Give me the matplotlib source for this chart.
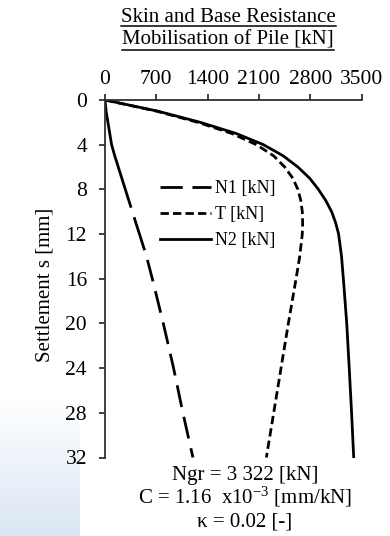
import numpy as np
import matplotlib
matplotlib.use('Agg')
import matplotlib.pyplot as plt
from matplotlib.lines import Line2D

# settlement of pile head [mm]
settlement = [0, 1, 2, 3, 4, 5, 6, 7, 8, 9, 10, 11, 12, 14, 16, 20, 24, 28, 32]
# base resistance N1 [kN]
n1 = [0, 15, 40, 65, 90, 133, 181, 229, 277, 325, 373, 421, 470, 566, 645, 795, 935, 1062, 1199]
# skin resistance T [kN]
t_skin = [0, 705, 1265, 1730, 2065, 2300, 2450, 2560, 2630, 2670, 2690, 2695, 2690, 2655, 2605, 2500, 2400, 2300, 2200]
# total resistance N2 [kN]
n2 = [0, 720, 1300, 1790, 2160, 2430, 2630, 2790, 2910, 3010, 3090, 3145, 3185, 3225, 3250, 3296, 3330, 3362, 3391]

x_ticks = [0, 700, 1400, 2100, 2800, 3500]
y_ticks = [0, 4, 8, 12, 16, 20, 24, 28, 32]

plt.rcParams['font.family'] = 'Liberation Serif'
plt.rcParams['mathtext.fontset'] = 'custom'
plt.rcParams['mathtext.rm'] = 'Liberation Serif'
plt.rcParams['mathtext.it'] = 'Liberation Serif:italic'


def underline(fig, txt, renderer):
    bb = txt.get_window_extent(renderer)
    inv = fig.transFigure.inverted()
    (x0, y0), (x1, _) = inv.transform([(bb.x0, bb.y0 + 0.5), (bb.x1, bb.y0)])
    fig.add_artist(Line2D([x0, x1], [y0, y0], color='black', lw=1.1))


def main():
    fig = plt.figure(figsize=(3.9, 5.36), dpi=100)

    # pale blue band in the lower left corner
    bg = fig.add_axes([0, 0, 80 / 390, 141 / 536], zorder=-1)
    grad = np.linspace(0, 1, 100).reshape(-1, 1)
    bg.imshow(grad, aspect='auto', origin='lower', extent=[0, 1, 0, 1],
              cmap=matplotlib.colors.LinearSegmentedColormap.from_list(
                  'bl', ['#dae6f3', '#edf3fa', '#ffffff']))
    bg.axis('off')

    ax = fig.add_axes([105 / 390, 1 - 457.5 / 536, 256.7 / 390, 357.5 / 536])

    ax.plot(n1, settlement, color='black', lw=2,
            dashes=(40, 3.6, 12.5, 3.6) + (8, 3.6) * 10, label='N1 [kN]')
    ax.plot(t_skin, settlement, color='black', lw=2, dashes=(3, 1.5), label='T [kN]')
    ax.plot(n2, settlement, color='black', lw=2, label='N2 [kN]')

    ax.set_xlim(0, 3500)
    ax.set_ylim(32, 0)
    ax.set_xticks(x_ticks)
    ax.set_yticks(y_ticks)
    ax.xaxis.tick_top()
    for side in ['right', 'bottom']:
        ax.spines[side].set_visible(False)
    for side in ['top', 'left']:
        ax.spines[side].set_color('#303030')
        ax.spines[side].set_linewidth(1.3)
    ax.tick_params(axis='both', direction='out', length=4, width=1.3, color='#303030',
                   labelsize=15.5)
    ax.tick_params(axis='x', pad=4)
    ax.tick_params(axis='y', pad=9)

    ax.set_ylabel('Settlement s [mm]', fontsize=15, va='center')
    ax.yaxis.set_label_coords(-0.234, 0.484)

    leg = ax.legend(loc='upper left', bbox_to_anchor=(0.215, 0.775), frameon=False,
                    fontsize=13, handlelength=2.8, handletextpad=0.25,
                    labelspacing=0.5, borderpad=0, borderaxespad=0)
    leg.get_lines()[0].set_dashes((8, 3.5))

    t1 = fig.text(0.585, 1 - 21.7 / 536, 'Skin and Base Resistance', ha='center',
                  va='baseline', fontsize=15)
    t2 = fig.text(0.585, 1 - 45 / 536, 'Mobilisation of Pile [kN]', ha='center',
                  va='baseline', fontsize=15)

    fig.text(0.628, 1 - 480 / 536, 'Ngr = 3 322 [kN]', ha='center', va='baseline', fontsize=15)
    fig.text(0.628, 1 - 503 / 536, r'C = 1.16  x10$^{-3}$ [mm/kN]', ha='center',
             va='baseline', fontsize=15)
    fig.text(0.628, 1 - 526 / 536, 'κ = 0.02 [-]', ha='center', va='baseline', fontsize=15)

    fig.canvas.draw()
    renderer = fig.canvas.get_renderer()
    underline(fig, t1, renderer)
    underline(fig, t2, renderer)

    fig.savefig('out.png', dpi=100)


if __name__ == "__main__":
    main()
